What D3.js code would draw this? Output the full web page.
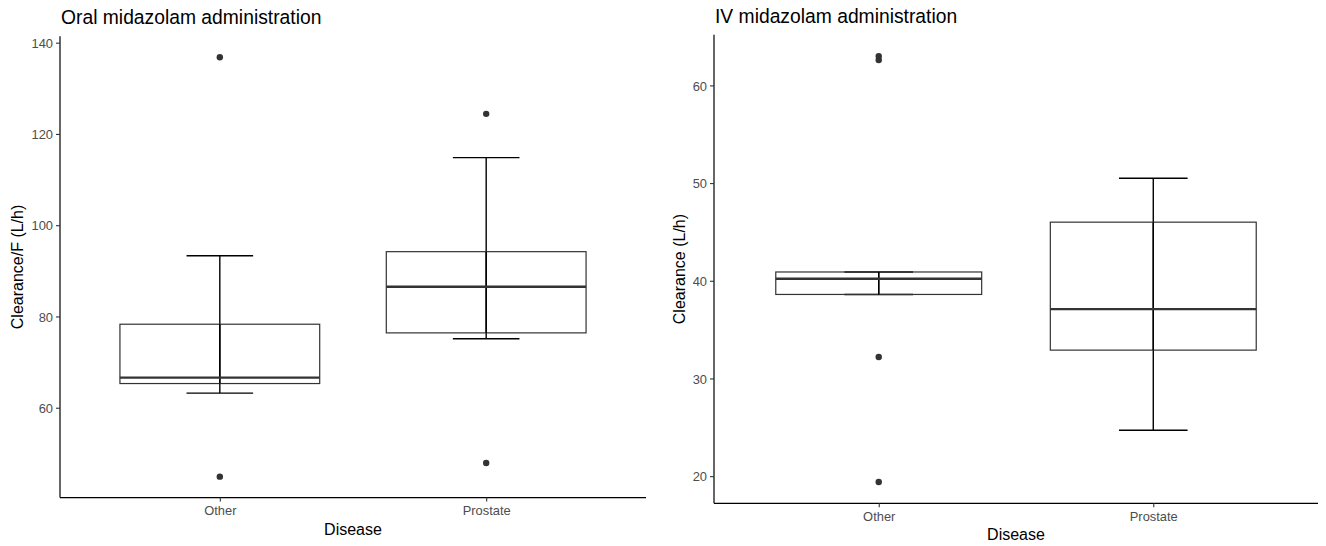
<!DOCTYPE html>
<html>
<head>
<meta charset="utf-8">
<script src="https://cdn.jsdelivr.net/npm/d3@7"></script>
<style>
    body { margin: 0; background: #fff; }
    svg { display: block; font-family: "Liberation Sans", Arial, Helvetica, sans-serif; }
</style>
</head>
<body>
<svg id="chart" width="1326" height="546"></svg>
<script>
// Disease groups on the x axis
const categories = ["Other", "Prostate"];

// Oral midazolam: box statistics per group (L/h)
const oralLowerWhisker = [63.2, 75.1];
const oralQ1 = [65.3, 76.4];
const oralMedian = [66.6, 86.5];
const oralQ3 = [78.3, 94.2];
const oralUpperWhisker = [93.3, 114.8];
const oralOutliers = [[136.8, 44.9], [124.4, 47.9]];
const oralTicks = [60, 80, 100, 120, 140];

// IV midazolam: box statistics per group (L/h)
const ivLowerWhisker = [38.6, 24.7];
const ivQ1 = [38.6, 32.9];
const ivMedian = [40.2, 37.1];
const ivQ3 = [40.9, 46.0];
const ivUpperWhisker = [40.9, 50.5];
const ivOutliers = [[63.0, 62.6, 32.2, 19.4], []];
const ivTicks = [20, 30, 40, 50, 60];

const svg = d3.select("#chart");

function buildBoxes(lo, q1, med, q3, hi, outliers) {
    return categories.map((name, i) => ({
        name,
        lo: lo[i], q1: q1[i], med: med[i], q3: q3[i], hi: hi[i],
        outliers: outliers[i]
    }));
}

function drawPanel(opts) {
    const { left, right, top, bottom, title, titleY, yLabel, ticks, boxes } = opts;

    // ggplot style 5% expansion on continuous axis
    const all = boxes.flatMap(b => [b.lo, b.hi, ...b.outliers]);
    const [mn, mx] = d3.extent(all);
    const pad = (mx - mn) * 0.05;

    const y = d3.scaleLinear().domain([mn - pad, mx + pad]).range([bottom, top]);
    const x = d3.scalePoint().domain(categories).range([left, right]).padding(0.6);
    const step = x.step();

    const g = svg.append("g");

    // boxes
    const box = g.selectAll("g.box")
        .data(boxes)
        .join("g")
        .attr("class", "box");

    // errorbar (whisker line + caps), drawn first like stat_boxplot(geom = "errorbar")
    box.append("line")
        .attr("x1", d => x(d.name)).attr("x2", d => x(d.name))
        .attr("y1", d => y(d.lo)).attr("y2", d => y(d.hi))
        .attr("stroke", "#000").attr("stroke-width", 1.4);
    box.selectAll("line.cap")
        .data(d => [d.lo, d.hi].map(v => ({ name: d.name, v })))
        .join("line")
        .attr("class", "cap")
        .attr("x1", d => x(d.name) - step * 0.125)
        .attr("x2", d => x(d.name) + step * 0.125)
        .attr("y1", d => y(d.v)).attr("y2", d => y(d.v))
        .attr("stroke", "#000").attr("stroke-width", 1.4);

    box.append("rect")
        .attr("x", d => x(d.name) - step * 0.375)
        .attr("width", step * 0.75)
        .attr("y", d => y(d.q3))
        .attr("height", d => y(d.q1) - y(d.q3))
        .attr("fill", "none")
        .attr("stroke", "#333").attr("stroke-width", 1.2);

    // whisker segment still visible through the box
    box.append("line")
        .attr("x1", d => x(d.name)).attr("x2", d => x(d.name))
        .attr("y1", d => y(d.q3)).attr("y2", d => y(d.q1))
        .attr("stroke", "#000").attr("stroke-width", 1.4);

    box.append("line")
        .attr("x1", d => x(d.name) - step * 0.375)
        .attr("x2", d => x(d.name) + step * 0.375)
        .attr("y1", d => y(d.med)).attr("y2", d => y(d.med))
        .attr("stroke", "#333").attr("stroke-width", 2.4);

    box.selectAll("circle")
        .data(d => d.outliers.map(v => ({ name: d.name, v })))
        .join("circle")
        .attr("cx", d => x(d.name))
        .attr("cy", d => y(d.v))
        .attr("r", 3.2)
        .attr("fill", "#333");

    // y axis
    const yAxis = g.append("g")
        .attr("transform", `translate(${left},0)`)
        .call(d3.axisLeft(y).tickValues(ticks).tickSize(4).tickPadding(3).tickSizeOuter(0));
    yAxis.select(".domain").attr("stroke", "#000").attr("stroke-width", 1.2)
        .attr("d", `M0,${top}V${bottom}`);
    yAxis.selectAll(".tick line").attr("stroke", "#333").attr("stroke-width", 1.1);
    yAxis.selectAll(".tick text")
        .attr("fill", "#4d4d4d")
        .attr("font-size", 12.9)
        .attr("font-family", null)
        .attr("dy", "0.36em");

    // x axis
    const xAxis = g.append("g")
        .attr("transform", `translate(0,${bottom})`)
        .call(d3.axisBottom(x).tickSize(4).tickPadding(3).tickSizeOuter(0));
    xAxis.select(".domain").attr("stroke", "#000").attr("stroke-width", 1.2)
        .attr("d", `M${left},0H${right}`);
    xAxis.selectAll(".tick line").attr("stroke", "#333").attr("stroke-width", 1.1);
    xAxis.selectAll(".tick text")
        .attr("fill", "#4d4d4d")
        .attr("font-size", 12.9)
        .attr("font-family", null)
        .attr("y", 17.5)
        .attr("dy", null);

    // axis titles
    g.append("text")
        .attr("x", (left + right) / 2)
        .attr("y", bottom + 37)
        .attr("text-anchor", "middle")
        .attr("font-size", 16)
        .text("Disease");

    let maxW = 0;
    yAxis.selectAll(".tick text").each(function() { maxW = Math.max(maxW, this.getComputedTextLength()); });

    g.append("text")
        .attr("transform", `translate(${left - 7 - maxW - 8},${(top + bottom) / 2}) rotate(-90)`)
        .attr("text-anchor", "middle")
        .attr("font-size", 16)
        .text(yLabel);

    // plot title
    g.append("text")
        .attr("x", left + 1)
        .attr("y", titleY)
        .attr("font-size", 19.3)
        .text(title);
}

drawPanel({
    left: 60, right: 646, top: 36.3, bottom: 497.6,
    title: "Oral midazolam administration", titleY: 24,
    yLabel: "Clearance/F (L/h)",
    ticks: oralTicks,
    boxes: buildBoxes(oralLowerWhisker, oralQ1, oralMedian, oralQ3, oralUpperWhisker, oralOutliers)
});

drawPanel({
    left: 714, right: 1318, top: 34.8, bottom: 503.3,
    title: "IV midazolam administration", titleY: 23,
    yLabel: "Clearance (L/h)",
    ticks: ivTicks,
    boxes: buildBoxes(ivLowerWhisker, ivQ1, ivMedian, ivQ3, ivUpperWhisker, ivOutliers)
});
</script>
</body>
</html>
